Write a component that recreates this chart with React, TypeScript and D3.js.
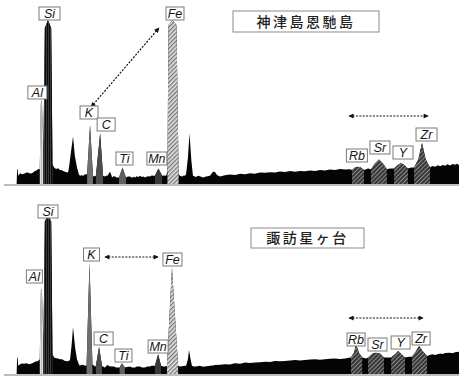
import React from "react";
import * as d3 from "d3";

type Pt = [number, number]; // [energy keV, relative intensity %]

// ---------- 神津島恩馳島 ----------
const topContinuum: Pt[] = [
  [0.56, 0], [0.58, 9], [0.6, 9], [0.62, 5], [0.69, 6.5], [0.76, 6], [0.84, 6.2], [0.91, 6.8], [0.99, 7],
  [1.06, 6.4], [1.14, 6.6], [1.21, 7.4], [1.25, 8], [1.32, 8.4], [1.36, 9], [1.4, 9.2],
  [1.97, 10], [2.04, 9.2], [2.12, 9.6], [2.19, 8.6], [2.27, 8.4], [2.33, 7.8], [2.38, 7.5], [2.45, 7.2], [2.49, 7],
  [2.53, 10], [2.6, 19], [2.68, 29], [2.75, 17], [2.83, 10], [2.9, 6], [2.94, 5], [3.0, 5.3], [3.06, 5], [3.12, 5.8], [3.17, 6],
  [3.48, 4.6],
  [3.88, 4.5], [3.94, 5.2], [3.98, 5], [4.03, 6.5], [4.07, 7.5], [4.11, 6], [4.15, 4], [4.2, 4.8], [4.26, 4.5], [4.32, 4], [4.37, 4],
  [4.74, 4.6], [4.82, 4.5], [4.9, 3.8], [4.97, 4.4], [5.01, 4], [5.08, 4.7], [5.14, 4.2], [5.2, 5], [5.27, 4.2], [5.33, 4.6],
  [5.39, 4], [5.46, 4.5], [5.52, 4.8], [5.57, 4.5], [5.64, 5.2], [5.72, 5],
  [6.1, 5.2], [6.18, 5],
  [6.7, 5], [6.78, 4.6], [6.85, 5.2], [6.89, 5],
  [6.93, 6], [7.0, 16], [7.06, 31], [7.13, 14], [7.19, 5],
  [7.3, 4.2], [7.38, 5], [7.45, 4.8], [7.57, 4], [7.68, 4.6], [7.83, 5], [7.94, 7.5], [8.02, 7.3], [8.09, 5.5], [8.21, 4.6],
  [8.39, 5.4], [8.58, 5.8], [8.77, 5.5], [8.96, 6.2], [9.15, 6], [9.33, 6.6], [9.52, 6.3], [9.71, 7], [9.9, 6.8], [10.09, 7.2],
  [10.27, 7], [10.46, 7.6], [10.65, 7.3], [10.84, 7.9], [11.03, 7.5], [11.21, 8], [11.4, 7.8], [11.59, 8.3], [11.78, 8],
  [11.97, 8.6], [12.15, 8.3], [12.34, 8.8], [12.53, 8.6], [12.72, 9.2], [12.91, 8.9], [13.09, 9],
  [13.7, 9], [13.77, 9.4],
  [14.6, 9.5],
  [15.39, 10],
  [16.18, 11], [16.29, 10.5], [16.4, 11.4], [16.48, 10.8], [16.58, 11.6], [16.67, 11.2], [16.76, 12], [16.85, 11.3],
  [16.95, 12.2], [17.04, 11.8], [17.12, 12.3], [17.19, 11.6],
];
const topAl: Pt[] = [[1.43, 9], [1.47, 49], [1.51, 51], [1.57, 20]];
const topSi: Pt[] = [[1.57, 20], [1.62, 95], [1.74, 100], [1.86, 95], [1.91, 12]];
const topK: Pt[] = [[3.21, 6], [3.32, 36], [3.43, 5]];
const topC: Pt[] = [[3.54, 5], [3.7, 31], [3.81, 5]];
const topTi: Pt[] = [[4.41, 4], [4.54, 10], [4.67, 4]];
const topMn: Pt[] = [[5.76, 5], [5.89, 9.5], [6.03, 5]];
const topFe: Pt[] = [[6.23, 8], [6.27, 97], [6.42, 100], [6.57, 97], [6.65, 6]];
const topRb: Pt[] = [[13.17, 8.5], [13.28, 10], [13.39, 10.5], [13.5, 10], [13.62, 8.5]];
const topSr: Pt[] = [[13.88, 9], [14.03, 12.5], [14.18, 15], [14.33, 12.5], [14.48, 9]];
const topY: Pt[] = [[14.75, 9.5], [14.88, 11.5], [15.01, 12.8], [15.14, 11.5], [15.27, 9.5]];
const topZr: Pt[] = [[15.5, 10], [15.66, 15], [15.8, 25], [15.94, 15], [16.1, 10]];

// ---------- 諏訪星ヶ台 ----------
const bottomContinuum: Pt[] = [
  [0.56, 0], [0.58, 10], [0.6, 10], [0.62, 5], [0.69, 6], [0.76, 6.4], [0.84, 6.2], [0.91, 6.6], [0.99, 6.3],
  [1.06, 6], [1.14, 6.5], [1.21, 7], [1.25, 7.5], [1.32, 7.8], [1.36, 8], [1.4, 8.6],
  [1.97, 10], [2.04, 9.6], [2.12, 9.5], [2.19, 9], [2.27, 9], [2.33, 8.4], [2.38, 8], [2.45, 7.8], [2.53, 8],
  [2.57, 9], [2.63, 18], [2.68, 28.7], [2.76, 16], [2.83, 9], [2.9, 6], [2.94, 5], [3.0, 5.6], [3.06, 5.5], [3.12, 5.2], [3.17, 5],
  [3.47, 5], [3.5, 4.6],
  [3.83, 4.2], [3.88, 4], [3.94, 5], [3.98, 5.5], [4.05, 4.8], [4.15, 4.5], [4.22, 4.6], [4.3, 4], [4.37, 4],
  [4.7, 4.3], [4.82, 4.5], [4.9, 3.9], [5.01, 4], [5.08, 4.6], [5.2, 4.5], [5.27, 4], [5.39, 4], [5.46, 4.5], [5.57, 4.5],
  [5.64, 5], [5.72, 5],
  [6.07, 4.6], [6.14, 4.5],
  [6.7, 4.5], [6.78, 4.8], [6.89, 5],
  [6.93, 5], [7.0, 9], [7.04, 14.6], [7.1, 9], [7.15, 5],
  [7.22, 4.5], [7.3, 4.5], [7.45, 5], [7.57, 4.4], [7.64, 4.5], [7.83, 5], [7.94, 5.2], [8.02, 5.5], [8.21, 5.6], [8.39, 6],
  [8.58, 5.8], [8.77, 6.5], [8.96, 6.3], [9.15, 7], [9.33, 6.7], [9.52, 7], [9.71, 7.2], [9.9, 7.5], [10.09, 7.3], [10.27, 8],
  [10.46, 7.7], [10.65, 8], [10.84, 8.2], [11.03, 8.5], [11.21, 8.2], [11.4, 8.5], [11.59, 8.8], [11.78, 9], [11.97, 8.7],
  [12.15, 9], [12.34, 9.3], [12.53, 9.5], [12.72, 9.2], [12.91, 9.5], [13.09, 10],
  [13.62, 9.8], [13.7, 9.5],
  [14.52, 10],
  [15.31, 10.5],
  [16.18, 12], [16.29, 11.6], [16.48, 12.5], [16.58, 12.2], [16.67, 12.8], [16.85, 13], [16.95, 12.6], [17.04, 13.2], [17.19, 13.5],
];
const bottomAl: Pt[] = [[1.43, 9], [1.47, 50], [1.51, 52], [1.57, 18]];
const bottomSi: Pt[] = [[1.57, 18], [1.62, 93], [1.74, 97], [1.86, 93], [1.91, 12]];
const bottomK: Pt[] = [[3.19, 5], [3.3, 68], [3.41, 6]];
const bottomC: Pt[] = [[3.54, 5], [3.66, 16.5], [3.77, 5]];
const bottomTi: Pt[] = [[4.43, 4], [4.52, 6.5], [4.63, 4]];
const bottomMn: Pt[] = [[5.76, 5], [5.88, 12], [5.99, 5]];
const bottomFe: Pt[] = [[6.21, 5], [6.4, 65], [6.63, 5]];
const bottomRb: Pt[] = [[13.13, 10], [13.24, 13], [13.32, 18], [13.43, 13], [13.55, 10]];
const bottomSr: Pt[] = [[13.77, 10], [13.95, 12.5], [14.07, 13], [14.22, 12.5], [14.37, 10]];
const bottomY: Pt[] = [[14.64, 10], [14.82, 12.5], [14.9, 14], [15.0, 12.5], [15.16, 10]];
const bottomZr: Pt[] = [[15.42, 10.5], [15.58, 14], [15.69, 17], [15.82, 14], [15.99, 11]];

const elements = ["Al", "Si", "K", "C", "Ti", "Mn", "Fe", "Rb", "Sr", "Y", "Zr"];
const titles = ["神津島恩馳島", "諏訪星ヶ台"];

// ---------- styling / layout ----------
const peakFill: Record<string, string> = {
  Al: "url(#hatchAl)",
  Si: "url(#hatchSi)",
  K: "#6e6e6e",
  C: "#4b4b4b",
  Ti: "#5e5e5e",
  Mn: "#383838",
  Fe: "url(#hatchFe)",
  Rb: "url(#hatchTrace)",
  Sr: "url(#hatchTrace)",
  Y: "url(#hatchTrace)",
  Zr: "url(#hatchTrace)",
};

type LabelLayout = { dx: number; top: number; w: number };

const topLabels: Record<string, LabelLayout> = {
  Si: { dx: 1.5, top: 7, w: 21 },
  Fe: { dx: 2.5, top: 7, w: 18 },
  Al: { dx: -4.5, top: 86, w: 19 },
  K: { dx: -1, top: 106, w: 18 },
  C: { dx: 6, top: 118, w: 18 },
  Ti: { dx: 2, top: 152, w: 17 },
  Mn: { dx: -1.5, top: 152, w: 20 },
  Rb: { dx: -1, top: 149, w: 21 },
  Sr: { dx: 1, top: 141, w: 20 },
  Y: { dx: 2, top: 146, w: 20 },
  Zr: { dx: 4.5, top: 128, w: 21 },
};
const bottomLabels: Record<string, LabelLayout> = {
  Si: { dx: 0, top: 205, w: 20 },
  Fe: { dx: 0.5, top: 253, w: 19 },
  Al: { dx: -7.5, top: 270, w: 16 },
  K: { dx: 2, top: 248, w: 16 },
  C: { dx: 4.5, top: 332, w: 19 },
  Ti: { dx: 1.5, top: 349, w: 17 },
  Mn: { dx: 0, top: 340, w: 20 },
  Rb: { dx: 0, top: 333, w: 18 },
  Sr: { dx: 1.5, top: 338, w: 19 },
  Y: { dx: 2.5, top: 336, w: 19 },
  Zr: { dx: 2, top: 332, w: 18 },
};

type Arrow = { e1: number; y1: number; e2: number; y2: number };

const panels = [
  {
    title: titles[0],
    titleBox: { x: 233, y: 11, w: 146, h: 21 },
    continuum: topContinuum,
    peaks: [topAl, topSi, topK, topC, topTi, topMn, topFe, topRb, topSr, topY, topZr],
    labels: topLabels,
    baseY: 184,
    fullY: 20,
    arrows: [
      { e1: 3.36, y1: 107, e2: 5.91, y2: 28 },
      { e1: 13.06, y1: 116, e2: 16.03, y2: 116 },
    ] as Arrow[],
  },
  {
    title: titles[1],
    titleBox: { x: 251, y: 228, w: 113, h: 20 },
    continuum: bottomContinuum,
    peaks: [bottomAl, bottomSi, bottomK, bottomC, bottomTi, bottomMn, bottomFe, bottomRb, bottomSr, bottomY, bottomZr],
    labels: bottomLabels,
    baseY: 374,
    fullY: 210,
    arrows: [
      { e1: 3.88, y1: 257, e2: 5.88, y2: 257 },
      { e1: 13.06, y1: 318, e2: 15.84, y2: 318 },
    ] as Arrow[],
  },
];

const W = 459;
const H = 378;
const x = d3.scaleLinear().domain([0.537, 17.19]).range([16, 459]);

function mergeProfile(continuum: Pt[], peaks: Pt[][]): Pt[] {
  const ranges = peaks.map((p) => [p[0][0], p[p.length - 1][0]]);
  const kept = continuum.filter(([e]) => !ranges.some(([a, b]) => e >= a && e <= b));
  return [...kept, ...peaks.flat()].sort((a, b) => a[0] - b[0]);
}

const labelFont = "'Liberation Sans', Arial, sans-serif";

export default function App() {
  return (
    <svg width={W} height={H} style={{ position: "absolute", left: 0, top: 0, background: "#fff" }}>
      <defs>
        <pattern id="hatchAl" width="2" height="4" patternUnits="userSpaceOnUse">
          <rect width="2" height="4" fill="#b5b5b5" />
          <rect width="0.9" height="4" fill="#e6e6e6" />
        </pattern>
        <pattern id="hatchSi" width="2" height="4" patternUnits="userSpaceOnUse">
          <rect width="2" height="4" fill="#0c0c0c" />
          <rect width="0.7" height="4" fill="#4f4f4f" />
        </pattern>
        <pattern id="hatchFe" width="3" height="3" patternUnits="userSpaceOnUse" patternTransform="rotate(45)">
          <rect width="3" height="3" fill="#e2e2e2" />
          <rect width="1.3" height="3" fill="#777" />
        </pattern>
        <pattern id="hatchTrace" width="3" height="3" patternUnits="userSpaceOnUse" patternTransform="rotate(45)">
          <rect width="3" height="3" fill="#363636" />
          <rect width="1" height="3" fill="#8a8a8a" />
        </pattern>
        <marker id="arrowHead" viewBox="0 0 10 10" refX="9" refY="5" markerWidth="6" markerHeight="5" orient="auto-start-reverse" markerUnits="userSpaceOnUse">
          <path d="M0,0 L10,5 L0,10 z" fill="#111" />
        </marker>
      </defs>

      {panels.map((panel, pi) => {
        const y = d3.scaleLinear().domain([0, 100]).range([panel.baseY, panel.fullY]);
        const area = d3
          .area<Pt>()
          .x((d) => x(d[0]))
          .y0(y(0))
          .y1((d) => y(Math.min(d[1], 100)));
        const profile = mergeProfile(panel.continuum, panel.peaks);
        return (
          <g key={pi}>
            <line x1={4} x2={W} y1={panel.baseY + 1} y2={panel.baseY + 1} stroke="#a9a9a9" strokeWidth={1.6} />
            <path d={area(profile) || ""} fill="#050505" />
            {panel.peaks.map((pk, k) => (
              <path key={k} d={area(pk) || ""} fill={peakFill[elements[k]]} />
            ))}

            {panel.arrows.map((a, k) => (
              <line
                key={k}
                x1={x(a.e1)}
                y1={a.y1}
                x2={x(a.e2)}
                y2={a.y2}
                stroke="#111"
                strokeWidth={1.2}
                strokeDasharray="2,1.4"
                markerStart="url(#arrowHead)"
                markerEnd="url(#arrowHead)"
              />
            ))}

            {panel.peaks.map((pk, k) => {
              const el = elements[k];
              const lay = panel.labels[el];
              const apex = pk.reduce((m, p) => (p[1] > m[1] ? p : m), pk[0]);
              const cx = x(apex[0]) + lay.dx;
              return (
                <g key={el}>
                  <rect x={cx - lay.w / 2} y={lay.top} width={lay.w} height={13} fill="#fff" stroke="#7a7a7a" strokeWidth={1} />
                  <text
                    x={cx}
                    y={lay.top + 10.8}
                    textAnchor="middle"
                    fontFamily={labelFont}
                    fontStyle="italic"
                    fontSize={12.5}
                    fill="#161616"
                  >
                    {el}
                  </text>
                </g>
              );
            })}

            <rect
              x={panel.titleBox.x}
              y={panel.titleBox.y}
              width={panel.titleBox.w}
              height={panel.titleBox.h}
              fill="#fff"
              stroke="#8a8a8a"
              strokeWidth={1}
            />
            <text
              x={panel.titleBox.x + panel.titleBox.w / 2}
              y={panel.titleBox.y + panel.titleBox.h / 2 + 5}
              textAnchor="middle"
              fontFamily="'Noto Sans CJK JP', sans-serif"
              fontSize={14}
              fontWeight={500}
              letterSpacing={2.5}
              fill="#222"
            >
              {panel.title}
            </text>
          </g>
        );
      })}
    </svg>
  );
}
